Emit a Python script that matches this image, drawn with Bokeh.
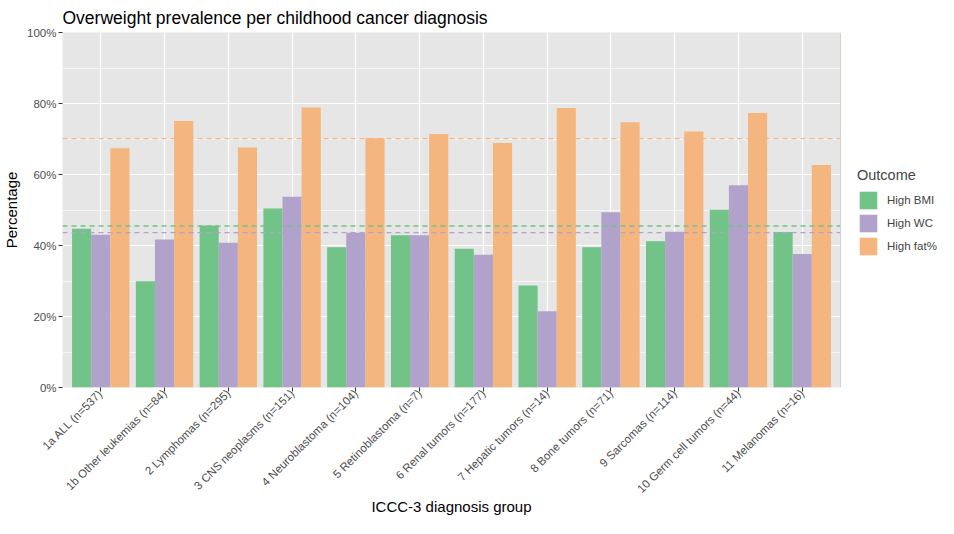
from bokeh.plotting import figure
from bokeh.layouts import row
from bokeh.models import FixedTicker, PrintfTickFormatter, Span, Legend, LegendItem, ColumnDataSource, Range1d
from bokeh.embed import file_html
from bokeh.resources import INLINE
import math

categories = ["1a ALL (n=537)", "1b Other leukemias (n=84)", "2 Lymphomas (n=295)",
              "3 CNS neoplasms (n=151)", "4 Neuroblastoma (n=104)", "5 Retinoblastoma (n=7)",
              "6 Renal tumors (n=177)", "7 Hepatic tumors (n=14)", "8 Bone tumors (n=71)",
              "9 Sarcomas (n=114)", "10 Germ cell tumors (n=44)", "11 Melanomas (n=16)"]
high_bmi = [44.7, 29.9, 45.6, 50.4, 39.5, 42.9, 39.1, 28.7, 39.5, 41.2, 50.1, 43.8]
high_wc = [43.0, 41.7, 40.8, 53.7, 43.6, 42.9, 37.4, 21.5, 49.4, 43.9, 57.0, 37.6]
high_fat = [67.4, 75.1, 67.6, 78.9, 70.2, 71.4, 68.9, 78.7, 74.7, 72.1, 77.3, 62.7]
series_names = ["High BMI", "High WC", "High fat%"]
overall = [45.5, 43.6, 70.1]
y_ticks = [0, 20, 40, 60, 80, 100]

colors = ["#71C387", "#B0A2CA", "#F4B57F"]
FONT = "Liberation Sans"

MAIN_W = 840
LEG_W = 98
H = 518

p = figure(width=MAIN_W, height=H, output_backend="svg", toolbar_location=None,
           x_range=Range1d(-0.6, len(categories) - 0.4), y_range=Range1d(0, 100),
           min_border_left=54, min_border_right=0, min_border_top=24, min_border_bottom=100)

p.background_fill_color = "#E6E6E6"
p.border_fill_color = "white"
p.outline_line_color = None

idx = list(range(len(categories)))
renderers = []
for k, (vals, col) in enumerate(zip([high_bmi, high_wc, high_fat], colors)):
    src = ColumnDataSource(dict(x=[i + (k - 1) * 0.3 for i in idx], top=vals))
    r = p.vbar(x="x", top="top", width=0.3, source=src, fill_color=col, line_color=None)
    renderers.append(r)

for val, col in zip(overall, colors):
    p.add_layout(Span(location=val, dimension="width", line_color=col, line_dash="5 4", line_width=1.3))

# axes
p.xaxis.ticker = FixedTicker(ticks=idx)
p.xaxis.major_label_overrides = {i: c for i, c in enumerate(categories)}
p.xaxis.major_label_orientation = math.pi / 4
p.yaxis.ticker = FixedTicker(ticks=y_ticks, minor_ticks=[10, 30, 50, 70, 90])
p.yaxis.formatter = PrintfTickFormatter(format="%d%%")

for ax in [p.xaxis[0], p.yaxis[0]]:
    ax.axis_line_color = None
    ax.major_tick_line_color = "#333333"
    ax.major_tick_in = 0
    ax.major_tick_out = 4
    ax.minor_tick_line_color = None
    ax.major_label_text_color = "#4D4D4D"
    ax.major_label_text_font = FONT
    ax.major_label_text_font_size = "11.5px"
    ax.axis_label_text_font = FONT
    ax.axis_label_text_font_size = "15px"
    ax.axis_label_text_font_style = "normal"
    ax.axis_label_text_color = "black"

p.xaxis.axis_label = "ICCC-3 diagnosis group"
p.yaxis.axis_label = "Percentage"
p.xaxis.major_label_standoff = 0
p.xaxis.axis_label_standoff = -4
p.xaxis.major_label_text_line_height = 1.0
p.xaxis.axis_label_text_line_height = 1.0
p.yaxis.major_label_standoff = 2
p.yaxis.axis_label_standoff = 4

p.xgrid.grid_line_color = "white"
p.xgrid.grid_line_width = 1.2
p.ygrid.grid_line_color = "white"
p.ygrid.grid_line_width = 1.2
p.ygrid.minor_grid_line_color = "white"
p.ygrid.minor_grid_line_width = 0.6

p.title.text = "Overweight prevalence per childhood cancer diagnosis"
p.title.text_font = FONT
p.title.text_font_size = "17.5px"
p.title.text_font_style = "normal"
p.title.text_color = "black"
p.title.offset = 0

# legend panel (a plain figure to the right of the plot, holding only the legend)
lf = figure(width=LEG_W, height=H, output_backend="svg", toolbar_location=None,
            x_range=Range1d(0, 1), y_range=Range1d(0, 1),
            min_border_left=0, min_border_right=0, min_border_top=0, min_border_bottom=0)
lf.axis.visible = False
lf.grid.visible = False
lf.outline_line_color = None
lf.background_fill_color = "white"
lf.border_fill_color = "white"
dummies = [lf.vbar(x=[-10], top=[1], width=0.1, fill_color=c, line_color=None) for c in colors]

legend = Legend(items=[LegendItem(label=n, renderers=[r]) for n, r in zip(series_names, dummies)],
                title="Outcome", location=(17, 130))
legend.title_text_font = FONT
legend.title_text_font_size = "14.5px"
legend.title_text_font_style = "normal"
legend.title_standoff = 6
legend.label_text_font = FONT
legend.label_text_font_size = "11.5px"
legend.glyph_width = 22
legend.glyph_height = 22
legend.spacing = 1
legend.padding = 0
legend.margin = 0
legend.label_standoff = 8
legend.border_line_color = None
legend.background_fill_alpha = 0
lf.add_layout(legend, "center")

layout = row(p, lf)
open("out.html", "w").write(file_html(layout, INLINE))
